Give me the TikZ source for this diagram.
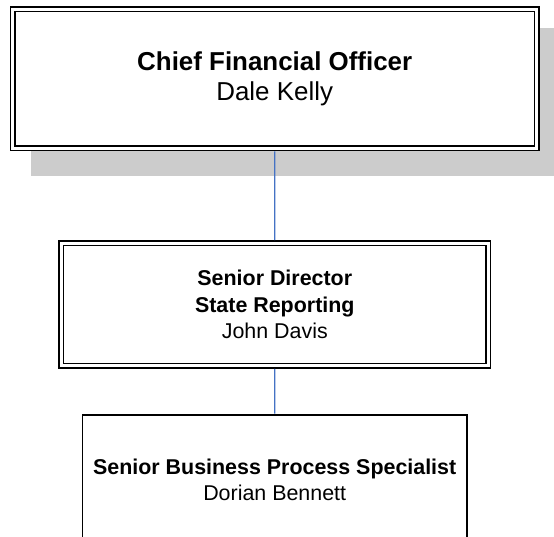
\documentclass[tikz,border=0pt]{standalone}
\usepackage{fontspec}
\setmainfont{Liberation Sans}
\usepackage{xcolor}
\usepackage{tikz}
\usetikzlibrary{positioning, backgrounds}
\definecolor{linkblue}{RGB}{68, 114, 196}
\definecolor{shadowgray}{RGB}{204, 204, 204}
\tikzset{
  doublebox/.style={draw, fill=white, line width=1.6bp, double=white, double distance=2.7bp, inner sep=0pt, align=center},
  plainbox/.style={draw, fill=white, line width=1.6bp, inner sep=0pt, align=center},
  bigtext/.style={font=\fontsize{26}{30}\selectfont},
  smalltext/.style={font=\fontsize{21.5}{26.5}\selectfont},
  link/.style={linkblue, line width=1.3bp}
}

\begin{document}
\begin{tikzpicture}[x=1bp, y=-1bp]
    \clip (0,0) rectangle (554,537);
    \node[doublebox, bigtext, minimum width=523.7bp, minimum height=139bp] (cfo) at (274.7,78.7)
        {\textbf{Chief Financial Officer}\\ Dale Kelly};
    \node[doublebox, smalltext, minimum width=427.2bp, minimum height=122.5bp] (director) at (274.8,304.4)
        {\textbf{Senior Director}\\ \textbf{State Reporting}\\ John Davis};
    \node[plainbox, smalltext, minimum width=384bp, minimum height=130bp, anchor=north] (specialist) at (274.7,414.3)
        {\textbf{Senior Business Process Specialist}\\ Dorian Bennett};
    \begin{scope}[on background layer]
        \fill[shadowgray] ([xshift=19bp, yshift=-20bp]cfo.north west) rectangle ([xshift=26bp, yshift=-27bp]cfo.south east);
    \end{scope}
    \draw[link, shorten <=2.3bp, shorten >=2.3bp] (cfo.south) -- (director.north);
    \draw[link, shorten <=2.3bp, shorten >=0.7bp] (director.south) -- (specialist.north);
\end{tikzpicture}
\end{document}
